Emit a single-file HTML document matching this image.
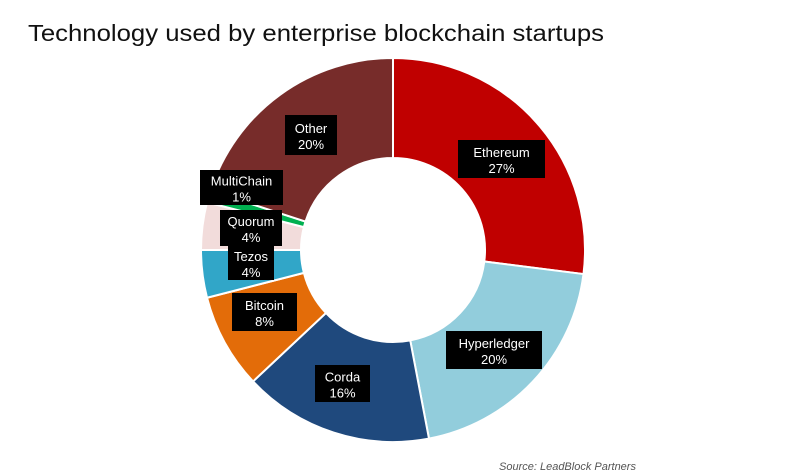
<!DOCTYPE html>
<html><head><meta charset="utf-8"><style>
body{margin:0;background:#fff;width:810px;height:476px;overflow:hidden}
svg{display:block}
.t{font-family:"Liberation Sans",sans-serif;font-size:13px;fill:#fff;text-anchor:middle}
</style></head><body>
<svg id="s" width="810" height="476" viewBox="0 0 810 476">
<text x="28" y="41" font-family="Liberation Sans, sans-serif" font-size="23" fill="#111" textLength="576" lengthAdjust="spacingAndGlyphs">Technology used by enterprise blockchain startups</text>
<g id="d"></g>
<g id="l"></g>
<text x="499" y="470" font-family="Liberation Sans, sans-serif" font-size="11" font-style="italic" fill="#555">Source: LeadBlock Partners</text>
</svg>
<script>
var cx=393,cy=250,R=192,r=92;
var data=[[27,'#c00000'],[20,'#92cddc'],[16,'#1f497d'],[8,'#e36c09'],[4,'#31a6c8'],[4,'#f2dcdb'],[1,'#00b050'],[20,'#772c2a']];
var g=document.getElementById('d'),a=0,h='';
function p(rad,ang){return [cx+rad*Math.sin(ang),cy-rad*Math.cos(ang)];}
data.forEach(function(d){var a0=a*2*Math.PI/100;a+=d[0];var a1=a*2*Math.PI/100;var lg=(a1-a0)>Math.PI?1:0;
var A=p(R,a0),B=p(R,a1),C=p(r,a1),D=p(r,a0);
h+='<path d="M'+A+' A'+R+','+R+' 0 '+lg+' 1 '+B+' L'+C+' A'+r+','+r+' 0 '+lg+' 0 '+D+' Z" fill="'+d[1]+'" stroke="#fff" stroke-width="2"/>';});
g.innerHTML=h;
var L=[['Ethereum','27%',458,140,87,38],['Hyperledger','20%',446,331,96,38],['Corda','16%',315,365,55,37],['Bitcoin','8%',232,293,65,38],['Tezos','4%',228,246,46,34],['Quorum','4%',220,210,62,36],['MultiChain','1%',200,170,83,35],['Other','20%',285,115,52,40]];
var s='';L.forEach(function(b){s+='<rect x="'+b[2]+'" y="'+b[3]+'" width="'+b[4]+'" height="'+b[5]+'" fill="#000"/>';
var mx=b[2]+b[4]/2,my=b[3]+b[5]/2;s+='<text class="t" x="'+mx+'" y="'+(my-2)+'">'+b[0]+'</text><text class="t" x="'+mx+'" y="'+(my+14)+'">'+b[1]+'</text>';});
document.getElementById('l').innerHTML=s;
</script>
</body></html>
